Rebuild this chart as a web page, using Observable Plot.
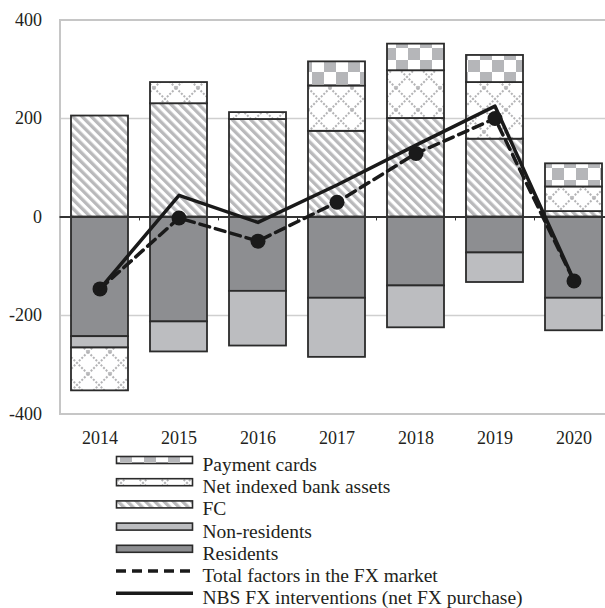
<!DOCTYPE html>
<html><head><meta charset="utf-8">
<script src="https://cdn.jsdelivr.net/npm/d3@7"></script>
<script src="https://cdn.jsdelivr.net/npm/@observablehq/plot@0.6"></script>
<style>
html,body{margin:0;padding:0;background:#fff;overflow:hidden;width:605px;height:608px}
#defs{position:absolute;left:0;top:0;width:0;height:0}
</style></head><body>
<svg id="defs" width="0" height="0">
  <defs>
    <pattern id="pFC" patternUnits="userSpaceOnUse" width="6.5" height="6.5" patternTransform="rotate(-45)">
      <rect width="6.5" height="6.5" fill="#ffffff"/>
      <rect width="3.3" height="6.5" fill="#b9b9bb"/>
    </pattern>
    <pattern id="pNIBA" patternUnits="userSpaceOnUse" width="22" height="22">
      <rect width="22" height="22" fill="#ffffff"/>
      <path d="M0,0L22,22M22,0L0,22" stroke="#b3b3b5" stroke-width="2" stroke-dasharray="2,1.6"/>
    </pattern>
    <pattern id="pPC" patternUnits="userSpaceOnUse" width="24" height="24">
      <rect width="24" height="24" fill="#ffffff"/>
      <rect x="0" y="0" width="12" height="12" fill="#b5b6b9"/>
      <rect x="12" y="12" width="12" height="12" fill="#b5b6b9"/>
    </pattern>
  </defs>
</svg>
<div id="chart"></div>
<div id="legend"></div>
<script>
const years = [2014, 2015, 2016, 2017, 2018, 2019, 2020];
const residents    = [-243, -213, -151, -165, -140, -73, -165];
const nonResidents = [-23, -61, -111, -120, -85, -60, -66];
const fc           = [205, 230, 198, 174, 200, 158, 11];
const niba         = [-87, 43, 14, 92, 97, 115, 50];
const paymentCards = [0, 0, 0, 49, 54, 55, 47];
const totalFactors = [-146, -2, -49, 30, 129, 200, -130];
const nbsInterventions = [-146, 44, -11, 65, 146, 225, -129];
const yTicks = [-400, -200, 0, 200, 400];

const seriesNames = ["Residents", "Non-residents", "FC", "Net indexed bank assets", "Payment cards"];
const seriesFills = ["#8d8e91", "#bcbdc0", "url(#pFC)", "url(#pNIBA)", "url(#pPC)"];
const seriesValues = [residents, nonResidents, fc, niba, paymentCards];

const rows = [];
seriesNames.forEach((s, k) => years.forEach((yr, i) => {
  const v = seriesValues[k][i];
  if (v !== 0) rows.push({year: yr, series: s, value: v});
}));
const lineRows = years.map((yr, i) => ({year: yr, total: totalFactors[i], nbs: nbsInterventions[i]}));

const chart = Plot.plot({
  width: 605, height: 450,
  marginLeft: 59.5, marginRight: -7.8, marginTop: 19.5, marginBottom: 36.5,
  style: {fontFamily: "'Liberation Serif', serif", fontSize: "18px", color: "#231f20", background: "white", overflow: "hidden"},
  x: {domain: years, paddingInner: 0.283, paddingOuter: 0.1415, tickSize: 0, tickPadding: 17, label: null, tickFormat: d => String(d)},
  y: {domain: [-400, 400], ticks: yTicks, tickSize: 0, tickPadding: 18, label: null, tickFormat: d => String(d)},
  color: {domain: seriesNames, range: seriesFills},
  marks: [
    Plot.ruleY([-200, 200], {stroke: "#cfcfcf", strokeWidth: 1.5}),
    Plot.frame({stroke: "#c6c6c6", strokeWidth: 2}),
    Plot.barY(rows, {x: "year", y: "value", fill: "series", stroke: "#2b2b2b", strokeWidth: 1.8}),
    Plot.ruleY([0], {stroke: "#333333", strokeWidth: 2}),
    Plot.ruleX(years.slice(1), {x: d => d, y1: 0, y2: -8, dx: -39.5, stroke: "#333333", strokeWidth: 1}),
    Plot.line(lineRows, {x: "year", y: "total", stroke: "#1a1a1a", strokeWidth: 3.5, strokeDasharray: "10,6"}),
    Plot.dot(lineRows, {x: "year", y: "total", r: 7.5, fill: "#1a1a1a"}),
    Plot.line(lineRows, {x: "year", y: "nbs", stroke: "#1a1a1a", strokeWidth: 3.5})
  ]
});
document.getElementById("chart").appendChild(chart);

// Legend
const legendLabels = ["Payment cards", "Net indexed bank assets", "FC", "Non-residents", "Residents",
  "Total factors in the FX market", "NBS FX interventions (net FX purchase)"];
const legendKinds = ["url(#pPC)", "url(#pNIBA)", "url(#pFC)", "#bcbdc0", "#8d8e91", "dash", "solid"];
const leg = d3.create("svg").attr("width", 605).attr("height", 158).style("display", "block").style("overflow", "hidden");
legendLabels.forEach((lab, i) => {
  const cy = 10 + i * 22.2;
  const kind = legendKinds[i];
  if (kind === "dash" || kind === "solid") {
    leg.append("line").attr("x1", 116).attr("x2", 193).attr("y1", cy).attr("y2", cy)
      .attr("stroke", "#1a1a1a").attr("stroke-width", 3.5)
      .attr("stroke-dasharray", kind === "dash" ? "10,6" : null);
  } else {
    leg.append("rect").attr("x", 116.5).attr("y", cy - 3.5).attr("width", 76).attr("height", 7)
      .attr("fill", kind).attr("stroke", "#2b2b2b").attr("stroke-width", 1.6);
  }
  leg.append("text").attr("x", 202.5).attr("y", cy + 11)
    .attr("font-family", "'Liberation Serif', serif").attr("font-size", "19.5px")
    .attr("fill", "#231f20").text(lab);
});
document.getElementById("legend").appendChild(leg.node());
</script>
</body></html>
